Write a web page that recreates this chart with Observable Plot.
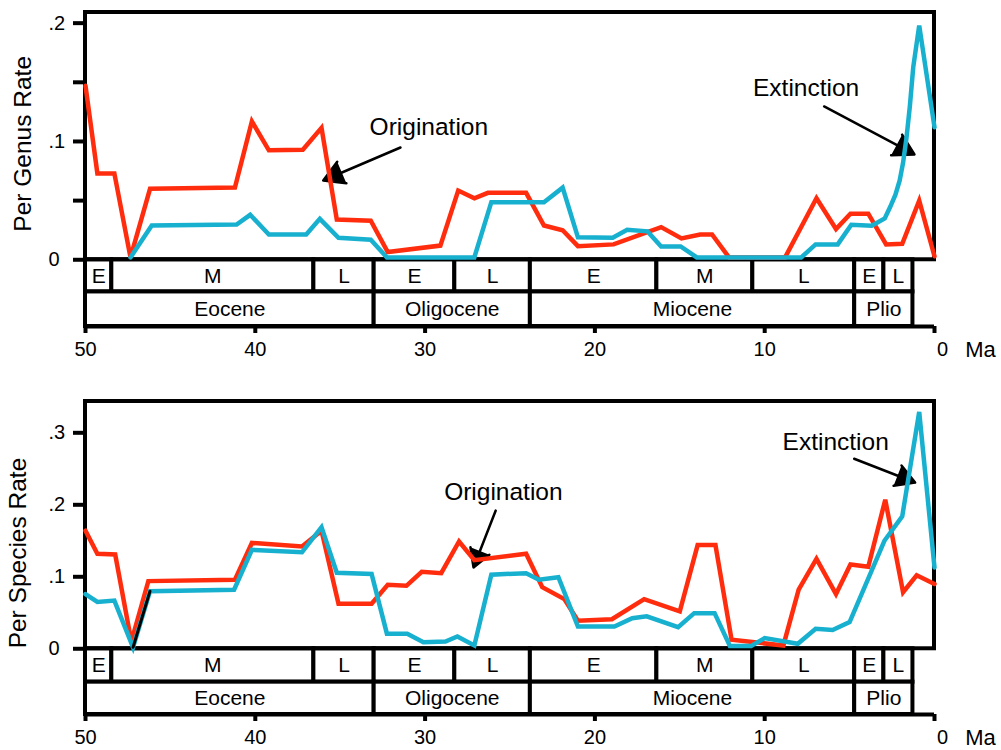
<!DOCTYPE html>
<html><head><meta charset="utf-8">
<script src="https://cdn.jsdelivr.net/npm/d3@7"></script>
<script src="https://cdn.jsdelivr.net/npm/@observablehq/plot@0.6"></script>
<style>
html,body{margin:0;padding:0;background:#fff;}
#chart svg{display:block;}
</style>
</head><body><div id="chart"></div>
<script>
// ---------- data ----------
const xTicks = [50, 40, 30, 20, 10, 0];
const xUnit = "Ma";
const genusYTicks = [0, 0.05, 0.1, 0.15, 0.2];
const genusYLabels = [0, 0.1, 0.2];
const speciesYTicks = [0, 0.1, 0.2, 0.3];
const speciesYLabels = [0, 0.1, 0.2, 0.3];

const epochs = [
  {name: "Eocene", start: 50, end: 33.0},
  {name: "Oligocene", start: 33.0, end: 23.8},
  {name: "Miocene", start: 23.8, end: 4.7},
  {name: "Plio", start: 4.7, end: 1.27}
];
const subEpochs = [
  {name: "E", start: 50, end: 48.45},
  {name: "M", start: 48.45, end: 36.55},
  {name: "L", start: 36.55, end: 33.0},
  {name: "E", start: 33.0, end: 28.25},
  {name: "L", start: 28.25, end: 23.8},
  {name: "E", start: 23.8, end: 16.35},
  {name: "M", start: 16.35, end: 10.7},
  {name: "L", start: 10.7, end: 4.7},
  {name: "E", start: 4.7, end: 2.98},
  {name: "L", start: 2.98, end: 1.27}
];

// [age (Ma), rate]
const genusOrigination = [
  [50, 0.147], [49.3, 0.073], [48.3, 0.073], [47.35, 0.002], [46.2, 0.060], [41.2, 0.061],
  [40.2, 0.117], [39.2, 0.0925], [37.2, 0.093], [36.1, 0.1115], [35.2, 0.034], [33.2, 0.033],
  [32.2, 0.0065], [29.1, 0.012], [28.05, 0.0585], [27.1, 0.052], [26.3, 0.0566], [24.05, 0.0566],
  [23.0, 0.029], [21.9, 0.025], [21.0, 0.0115], [18.9, 0.013], [16.1, 0.0276], [14.9, 0.018],
  [13.8, 0.0214], [13.1, 0.0214], [12.1, 0.002], [8.8, 0.002], [6.95, 0.052], [5.8, 0.026],
  [4.95, 0.039], [3.9, 0.039], [2.85, 0.013], [1.9, 0.0135], [0.9, 0.050], [0, 0.003]
];
const genusExtinction = [
  [47.35, 0.002], [46.1, 0.029], [41.1, 0.0298], [40.3, 0.038], [39.2, 0.0214], [37.0, 0.0214],
  [36.2, 0.0346], [35.1, 0.0186], [33.2, 0.017], [32.25, 0.002], [27.1, 0.002], [26.1, 0.0487],
  [23.0, 0.0487], [21.9, 0.061], [21.0, 0.019], [18.95, 0.0186], [18.1, 0.0254], [16.9, 0.024],
  [16.1, 0.0113], [14.95, 0.0113], [14.0, 0.002], [7.85, 0.002], [7.0, 0.013], [5.7, 0.013],
  [4.9, 0.0296], [3.7, 0.0288], [2.93, 0.035], [2.6, 0.045], [2.3, 0.055], [2.05, 0.067],
  [1.85, 0.082], [1.65, 0.103], [1.45, 0.13], [1.25, 0.163], [0.9, 0.198], [0, 0.112]
];
const speciesOrigination = [
  [50, 0.164], [49.3, 0.132], [48.25, 0.131], [47.3, 0.010], [46.3, 0.094], [41.2, 0.096],
  [40.2, 0.147], [37.25, 0.142], [36.1, 0.164], [35.1, 0.0625], [33.15, 0.0625], [32.2, 0.089],
  [31.1, 0.0875], [30.2, 0.107], [29.05, 0.105], [28.0, 0.149], [27.1, 0.123], [24.05, 0.132],
  [23.1, 0.0856], [21.8, 0.069], [21.0, 0.039], [19.0, 0.041], [17.1, 0.069], [15.0, 0.052],
  [13.95, 0.144], [12.9, 0.144], [11.95, 0.0125], [8.9, 0.0046], [8.0, 0.082], [6.95, 0.125],
  [5.8, 0.076], [4.95, 0.117], [3.9, 0.114], [2.9, 0.207], [1.85, 0.0786], [1.05, 0.102], [0, 0.090]
];
const speciesExtinction = [
  [50, 0.076], [49.3, 0.065], [48.3, 0.067], [47.2, 0.002], [46.2, 0.080], [41.25, 0.082],
  [40.2, 0.1375], [37.25, 0.134], [36.1, 0.169], [35.2, 0.1055], [33.15, 0.104], [32.25, 0.021],
  [31.05, 0.021], [30.1, 0.009], [28.8, 0.010], [28.1, 0.017], [27.1, 0.0046], [26.1, 0.103],
  [24.05, 0.105], [23.3, 0.096], [22.15, 0.0995], [21.0, 0.031], [18.85, 0.031], [17.8, 0.0425],
  [16.95, 0.045], [15.1, 0.030], [14.15, 0.0495], [12.95, 0.0495], [12.05, 0.004], [10.8, 0.004],
  [10.0, 0.0148], [8.05, 0.007], [7.0, 0.0278], [6.0, 0.026], [5.0, 0.037], [2.95, 0.150],
  [1.9, 0.184], [0.9, 0.329], [0, 0.113]
];
// segment of the species extinction curve drawn in black in the original
const speciesBlackSegment = speciesExtinction.slice(3, 5);

const genusNotes = [
  {text: "Origination", age: 29.78, rate: 0.1118},
  {text: "Extinction", age: 7.56, rate: 0.1448}
];
const genusArrows = [
  {a1: 31.45, r1: 0.0949, a2: 36.0, r2: 0.067},
  {a1: 6.5, r1: 0.1296, a2: 1.18, r2: 0.089}
];
const speciesNotes = [
  {text: "Origination", age: 25.39, rate: 0.2171},
  {text: "Extinction", age: 5.82, rate: 0.2865}
];
const speciesArrows = [
  {a1: 25.84, r1: 0.192, a2: 27.15, r2: 0.113},
  {a1: 4.73, r1: 0.264, a2: 1.14, r2: 0.231}
];

// ---------- drawing ----------
const RED = "#ff2d0e";
const BLUE = "#17b0cf";
const FONT = "'Liberation Sans', Arial, Helvetica, sans-serif";
const fmtY = d => d === 0 ? "0" : String(d).replace(/^0/, "");

function panel(o) {
  const x0 = d3.max(xTicks), x1 = d3.min(xTicks);
  return Plot.plot({
    width: 1001,
    height: 375,
    marginLeft: 85,
    marginRight: 67,
    marginTop: o.marginTop,
    marginBottom: o.marginBottom,
    x: {domain: [x0, x1], axis: null},
    y: {domain: [o.bottom, o.top], axis: null},
    style: {fontFamily: FONT, fontSize: "20px", color: "black", background: "white", overflow: "visible"},
    marks: [
      // period boxes
      Plot.rect(o.sub, {x1: "start", x2: "end", y1: 0, y2: o.rowDiv, fill: "white", stroke: "black", strokeWidth: 4}),
      Plot.rect(o.ep, {x1: "start", x2: "end", y1: o.rowDiv, y2: o.bottom, fill: "white", stroke: "black", strokeWidth: 4}),
      Plot.text(o.sub, {x: d => (d.start + d.end) / 2, y: o.rowDiv / 2, text: "name", fontSize: 21}),
      Plot.text(o.ep, {x: d => (d.start + d.end) / 2, y: (o.rowDiv + o.bottom) / 2, text: "name", fontSize: 21}),
      // plot frame
      Plot.rect([{x0, x1}], {x1: "x0", x2: "x1", y1: 0, y2: o.top, fill: "none", stroke: "black", strokeWidth: 4}),
      // x axis line
      Plot.ruleY([o.bottom], {x1: x0, x2: x1, strokeWidth: 4, stroke: "black"}),
      Plot.axisX({ticks: xTicks, tickSize: 7, tickPadding: 8, strokeWidth: 4, fontSize: 20,
        tickFormat: d => d === 0 ? "" : String(d)}),
      Plot.text([0], {x: d => d, frameAnchor: "bottom", text: d => String(d), lineAnchor: "top", textAnchor: "middle", dy: 15, dx: 8, fontSize: 20}),
      Plot.text([0], {x: d => d, frameAnchor: "bottom", text: () => xUnit, lineAnchor: "top", textAnchor: "middle", dy: 15, dx: 46, fontSize: 22}),
      // y axis
      Plot.axisY({ticks: o.yTicks, tickSize: 12, strokeWidth: 4, tickFormat: () => ""}),
      Plot.text(o.yLabels, {y: d => d, text: fmtY, frameAnchor: "left", dx: -37, textAnchor: "start", fontSize: 20}),
      Plot.text([o.title], {y: () => o.titleRate, text: d => d, frameAnchor: "left", textAnchor: "middle", dx: o.titleDx, rotate: -90, fontSize: 24.5}),
      // annotations
      Plot.arrow(o.arrows, {x1: "a1", y1: "r1", x2: "a2", y2: "r2", stroke: "black", fill: "black",
        strokeWidth: 2.5, headLength: 14, headAngle: 60}),
      Plot.text(o.notes, {x: "age", y: "rate", text: "text", fontSize: 24.5}),
      // series
      Plot.line(o.orig, {x: d => d[0], y: d => d[1], stroke: RED, strokeWidth: 4.5, strokeLinejoin: "miter", strokeMiterlimit: 4}),
      Plot.line(o.ext, {x: d => d[0], y: d => d[1], stroke: BLUE, strokeWidth: 4.5, strokeLinejoin: "miter", strokeMiterlimit: 4}),
      o.black ? Plot.line(o.black, {x: d => d[0], y: d => d[1], stroke: "black", strokeWidth: 3}) : null
    ]
  });
}

const chart = document.getElementById("chart");
chart.append(panel({
  orig: genusOrigination, ext: genusExtinction, black: null,
  yTicks: genusYTicks, yLabels: genusYLabels,
  title: "Per Genus Rate", titleRate: 0.098, titleDx: -62.5,
  notes: genusNotes, arrows: genusArrows,
  top: 0.209, rowDiv: -0.0272, bottom: -0.0564, marginTop: 12, marginBottom: 49,
  sub: subEpochs, ep: epochs
}));
chart.append(panel({
  orig: speciesOrigination, ext: speciesExtinction, black: speciesBlackSegment,
  yTicks: speciesYTicks, yLabels: speciesYLabels,
  title: "Per Species Rate", titleRate: 0.133, titleDx: -67,
  notes: speciesNotes, arrows: speciesArrows,
  top: 0.3435, rowDiv: -0.0464, bottom: -0.0913, marginTop: 26, marginBottom: 36,
  sub: subEpochs, ep: epochs
}));
</script>
</body></html>
